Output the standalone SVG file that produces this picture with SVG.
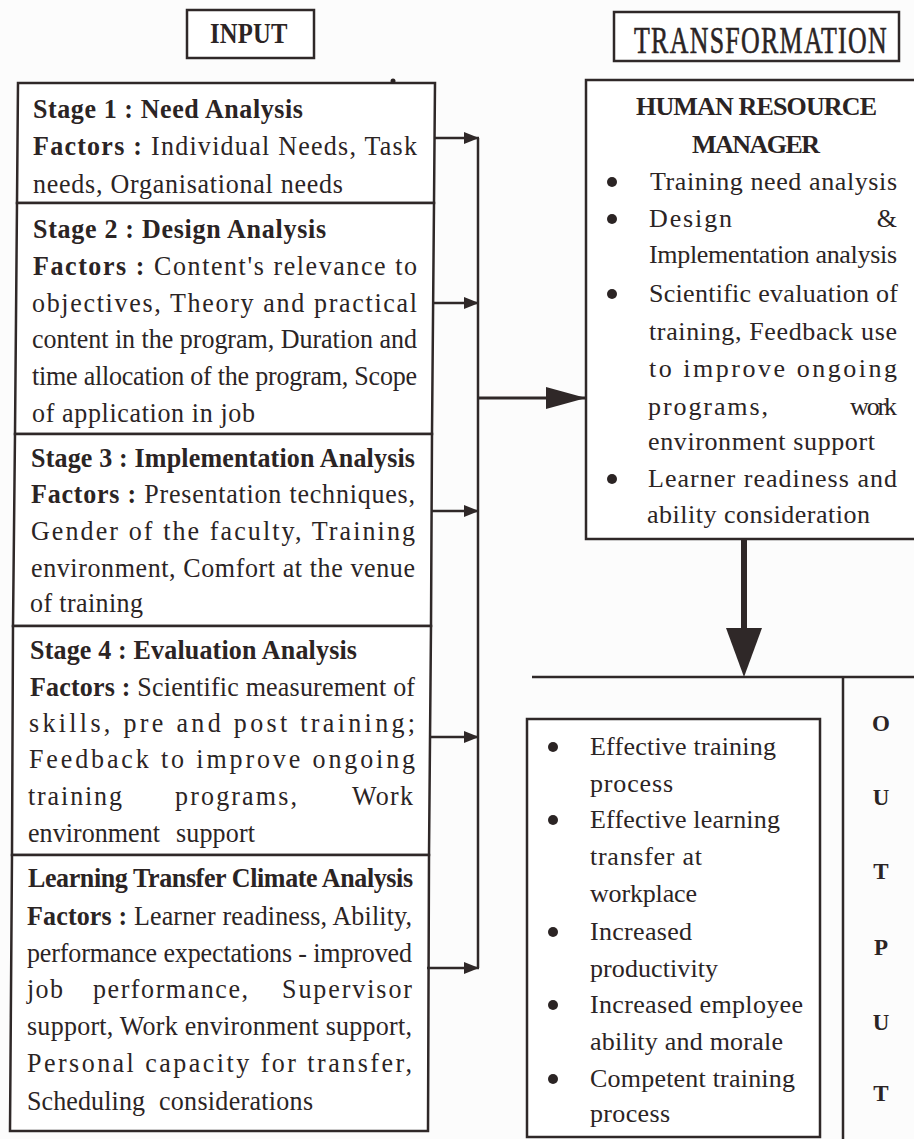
<svg xmlns="http://www.w3.org/2000/svg" width="914" height="1139" viewBox="0 0 914 1139">
  <style>
    .t { font-family: "Liberation Serif", "Times New Roman", serif; font-size: 26px; fill: #2b2424; }
    .tl { font-family: "Liberation Serif", "Times New Roman", serif; font-size: 28px; fill: #2b2424; }
    .b { font-weight: bold; }
    .hd { font-family: "Liberation Serif", "Times New Roman", serif; fill: #2b2424; }
    .box { fill: #ffffff; stroke: #2f2828; stroke-width: 2.5; }
    .ln { fill: none; stroke: #2f2828; stroke-width: 2.5; }
    .dot { fill: #2b2424; }
  </style>
  <defs>
    <marker id="tip" markerUnits="userSpaceOnUse" markerWidth="15" markerHeight="12" refX="15" refY="6" orient="auto">
      <path d="M0,0 L15,6 L0,12 z" fill="#2f2828"/>
    </marker>
  </defs>

  <rect width="914" height="1139" fill="#fcfcfc"/>

  <!-- column headings (condensed display type) -->
  <g id="input-title">
    <rect class="box" x="187" y="10" width="127" height="48"/>
    <text class="hd b" transform="translate(210 43) scale(.85 1)" font-size="29" textLength="91" lengthAdjust="spacing">INPUT</text>
  </g>
  <g id="transformation-title">
    <rect class="box" x="614" y="12" width="285" height="49"/>
    <text class="hd" transform="translate(634 53) scale(.7 1)" font-size="37" stroke="#2b2424" stroke-width="0.6" textLength="361" lengthAdjust="spacing">TRANSFORMATION</text>
  </g>

  <!-- input stages; body text is set slightly condensed -->
  <g id="stage-1">
    <polygon class="box" points="18,83 435,83 434,203 17,203"/>
    <circle class="dot" cx="393" cy="81" r="2.5"/>
    <text class="tl b" transform="translate(33 118) scale(.93 1)" textLength="290.3" lengthAdjust="spacing">Stage 1 : Need Analysis</text>
    <text class="tl" transform="translate(33 155) scale(.93 1)" textLength="412.9" lengthAdjust="spacing"><tspan class="b">Factors :</tspan> Individual Needs, Task</text>
    <text class="tl" transform="translate(33 193) scale(.93 1)" textLength="333.3" lengthAdjust="spacing">needs, Organisational needs</text>
  </g>
  <g id="stage-2">
    <polygon class="box" points="17,203 434,203 432,434 15,434"/>
    <text class="tl b" transform="translate(33 238) scale(.93 1)" textLength="315.1" lengthAdjust="spacing">Stage 2 : Design Analysis</text>
    <text class="tl" transform="translate(33 275) scale(.93 1)" textLength="412.9" lengthAdjust="spacing"><tspan class="b">Factors :</tspan> Content's relevance to</text>
    <text class="tl" transform="translate(32 312) scale(.93 1)" textLength="414" lengthAdjust="spacing">objectives, Theory and practical</text>
    <text class="tl" transform="translate(32 348) scale(.93 1)" textLength="414" lengthAdjust="spacing">content in the program, Duration and</text>
    <text class="tl" transform="translate(32 385) scale(.93 1)" textLength="414" lengthAdjust="spacing">time allocation of the program, Scope</text>
    <text class="tl" transform="translate(32 422) scale(.93 1)" textLength="239.8" lengthAdjust="spacing">of application in job</text>
  </g>
  <g id="stage-3">
    <polygon class="box" points="15,434 432,434 431,626 13,626"/>
    <text class="tl b" transform="translate(31 467) scale(.93 1)" textLength="412.9" lengthAdjust="spacing">Stage 3 : Implementation Analysis</text>
    <text class="tl" transform="translate(31 503) scale(.93 1)" textLength="412.9" lengthAdjust="spacing"><tspan class="b">Factors :</tspan> Presentation techniques,</text>
    <text class="tl" transform="translate(31 540) scale(.93 1)" textLength="412.9" lengthAdjust="spacing">Gender of the faculty, Training</text>
    <text class="tl" transform="translate(31 577) scale(.93 1)" textLength="412.9" lengthAdjust="spacing">environment, Comfort at the venue</text>
    <text class="tl" transform="translate(30 612) scale(.93 1)" textLength="121.5" lengthAdjust="spacing">of training</text>
  </g>
  <g id="stage-4">
    <polygon class="box" points="13,626 431,626 429,855 12,855"/>
    <text class="tl b" transform="translate(30 659) scale(.93 1)" textLength="351.6" lengthAdjust="spacing">Stage 4 : Evaluation Analysis</text>
    <text class="tl" transform="translate(30 696) scale(.93 1)" textLength="414" lengthAdjust="spacing"><tspan class="b">Factors :</tspan> Scientific measurement of</text>
    <text class="tl" transform="translate(29 732) scale(.93 1)" textLength="415.1" lengthAdjust="spacing">skills, pre and post training;</text>
    <text class="tl" transform="translate(29 768) scale(.93 1)" textLength="415.1" lengthAdjust="spacing">Feedback to improve ongoing</text>
    <text class="tl" transform="translate(28 805) scale(.93 1)" textLength="101.1" lengthAdjust="spacing">training</text>
    <text class="tl" transform="translate(175 805) scale(.93 1)" textLength="131.2" lengthAdjust="spacing">programs,</text>
    <text class="tl" transform="translate(352 805) scale(.93 1)" textLength="65.6" lengthAdjust="spacing">Work</text>
    <text class="tl" transform="translate(28 842) scale(.93 1)" textLength="141.9" lengthAdjust="spacing">environment</text>
    <text class="tl" transform="translate(176 842) scale(.93 1)" textLength="84.9" lengthAdjust="spacing">support</text>
  </g>
  <g id="stage-5">
    <polygon class="box" points="12,855 429,855 428,1131 10,1131"/>
    <text class="tl b" transform="translate(28 887) scale(.93 1)" textLength="414" lengthAdjust="spacing">Learning Transfer Climate Analysis</text>
    <text class="tl" transform="translate(27 925) scale(.93 1)" textLength="414" lengthAdjust="spacing"><tspan class="b">Factors :</tspan> Learner readiness, Ability,</text>
    <text class="tl" transform="translate(27 962) scale(.93 1)" textLength="414" lengthAdjust="spacing">performance expectations - improved</text>
    <text class="tl" transform="translate(27 998) scale(.93 1)" textLength="38.7" lengthAdjust="spacing">job</text>
    <text class="tl" transform="translate(93 998) scale(.93 1)" textLength="166.7" lengthAdjust="spacing">performance,</text>
    <text class="tl" transform="translate(282 998) scale(.93 1)" textLength="139.8" lengthAdjust="spacing">Supervisor</text>
    <text class="tl" transform="translate(27 1035) scale(.93 1)" textLength="414" lengthAdjust="spacing">support, Work environment support,</text>
    <text class="tl" transform="translate(27 1072) scale(.93 1)" textLength="414" lengthAdjust="spacing">Personal capacity for transfer,</text>
    <text class="tl" transform="translate(27 1110) scale(.93 1)" textLength="126.9" lengthAdjust="spacing">Scheduling</text>
    <text class="tl" transform="translate(159 1110) scale(.93 1)" textLength="165.6" lengthAdjust="spacing">considerations</text>
  </g>

  <!-- transformation: HR manager -->
  <g id="hr-manager">
    <rect class="box" x="586" y="80" width="340" height="459"/>
    <text class="t b" x="636" y="115" textLength="241" lengthAdjust="spacing">HUMAN RESOURCE</text>
    <text class="t b" x="692" y="153" textLength="128" lengthAdjust="spacing">MANAGER</text>
    <circle class="dot" cx="612" cy="182" r="5"/>
    <text class="t" x="650" y="190" textLength="247" lengthAdjust="spacing">Training need analysis</text>
    <circle class="dot" cx="612" cy="219" r="5"/>
    <text class="t" x="649" y="227" textLength="83" lengthAdjust="spacing">Design</text>
    <text class="t" x="897" y="227" text-anchor="end">&amp;</text>
    <text class="t" x="649" y="263" textLength="248" lengthAdjust="spacing">Implementation analysis</text>
    <circle class="dot" cx="612" cy="294" r="5"/>
    <text class="t" x="649" y="302" textLength="249" lengthAdjust="spacing">Scientific evaluation of</text>
    <text class="t" x="649" y="340" textLength="248" lengthAdjust="spacing">training, Feedback use</text>
    <text class="t" x="649" y="377" textLength="248" lengthAdjust="spacing">to improve ongoing</text>
    <text class="t" x="648" y="415" textLength="120" lengthAdjust="spacing">programs,</text>
    <text class="t" x="850" y="415" textLength="47" lengthAdjust="spacing">work</text>
    <text class="t" x="648" y="450" textLength="227" lengthAdjust="spacing">environment support</text>
    <circle class="dot" cx="612" cy="479" r="5"/>
    <text class="t" x="648" y="487" textLength="249" lengthAdjust="spacing">Learner readiness and</text>
    <text class="t" x="647" y="523" textLength="223" lengthAdjust="spacing">ability consideration</text>
  </g>

  <!-- output frame and results -->
  <g id="output">
    <path class="ln" d="M532,677 L916,677 M843,677 L843,1141"/>
    <rect class="box" x="527" y="719" width="293" height="418"/>
    <circle class="dot" cx="553" cy="747" r="5"/>
    <text class="t" x="590" y="755" textLength="186" lengthAdjust="spacing">Effective training</text>
    <text class="t" x="590" y="792" textLength="83" lengthAdjust="spacing">process</text>
    <circle class="dot" cx="553" cy="820" r="5"/>
    <text class="t" x="590" y="828" textLength="190" lengthAdjust="spacing">Effective learning</text>
    <text class="t" x="590" y="865" textLength="112" lengthAdjust="spacing">transfer  at</text>
    <text class="t" x="590" y="902" textLength="107" lengthAdjust="spacing">workplace</text>
    <circle class="dot" cx="553" cy="932" r="5"/>
    <text class="t" x="590" y="940" textLength="102" lengthAdjust="spacing">Increased</text>
    <text class="t" x="590" y="977" textLength="128" lengthAdjust="spacing">productivity</text>
    <circle class="dot" cx="553" cy="1005" r="5"/>
    <text class="t" x="590" y="1013" textLength="213" lengthAdjust="spacing">Increased employee</text>
    <text class="t" x="590" y="1050" textLength="193" lengthAdjust="spacing">ability and morale</text>
    <circle class="dot" cx="553" cy="1079" r="5"/>
    <text class="t" x="590" y="1087" textLength="205" lengthAdjust="spacing">Competent training</text>
    <text class="t" x="590" y="1122" textLength="80" lengthAdjust="spacing">process</text>
  </g>
  <g id="output-label">
    <text class="hd b" font-size="23" text-anchor="middle" x="881" y="731">O</text>
    <text class="hd b" font-size="23" text-anchor="middle" x="881" y="805">U</text>
    <text class="hd b" font-size="23" text-anchor="middle" x="881" y="879">T</text>
    <text class="hd b" font-size="23" text-anchor="middle" x="881" y="955">P</text>
    <text class="hd b" font-size="23" text-anchor="middle" x="881" y="1030">U</text>
    <text class="hd b" font-size="23" text-anchor="middle" x="881" y="1101">T</text>
  </g>

  <!-- connectors -->
  <g id="connectors">
    <path class="ln" d="M478,138 L478,968"/>
    <line class="ln" x1="435" y1="138" x2="479" y2="138" marker-end="url(#tip)"/>
    <line class="ln" x1="433" y1="303" x2="479" y2="303" marker-end="url(#tip)"/>
    <line class="ln" x1="431" y1="511" x2="479" y2="511" marker-end="url(#tip)"/>
    <line class="ln" x1="429" y1="737" x2="479" y2="737" marker-end="url(#tip)"/>
    <line class="ln" x1="427" y1="968" x2="479" y2="968" marker-end="url(#tip)"/>
    <line x1="478" y1="398" x2="586" y2="398" stroke="#2f2828" stroke-width="3"/>
    <polygon points="546,387 586,398 546,409" fill="#2f2828"/>
    <line x1="744" y1="539" x2="744" y2="632" stroke="#2f2828" stroke-width="6"/>
    <polygon points="726,628 762,628 744,677" fill="#2f2828"/>
  </g>
</svg>
